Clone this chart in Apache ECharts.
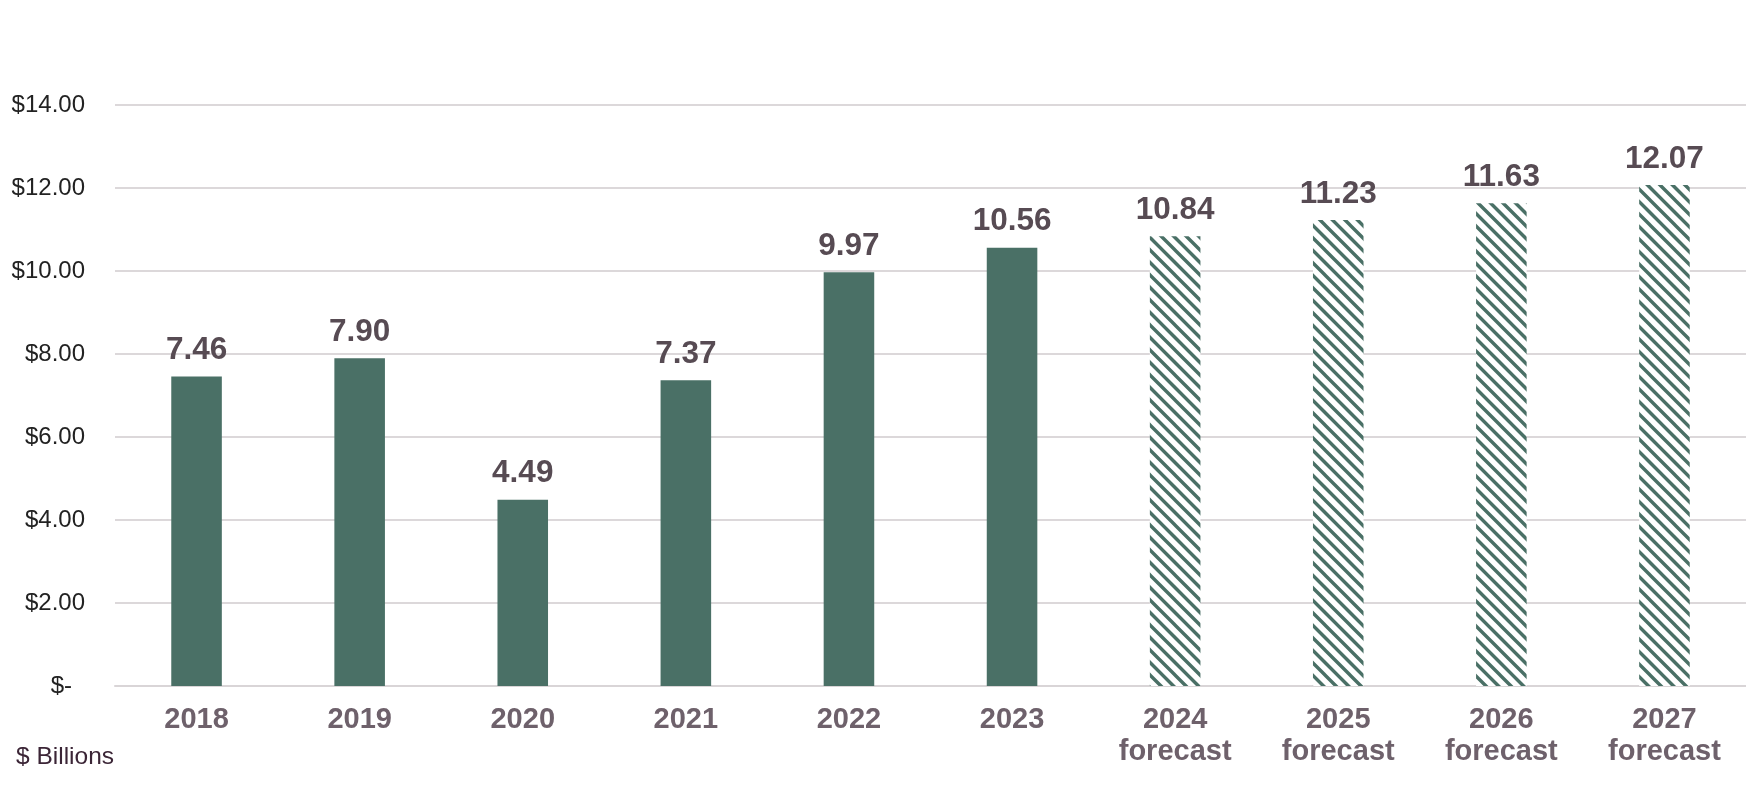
<!DOCTYPE html>
<html>
<head>
<meta charset="utf-8">
<script src="https://cdn.jsdelivr.net/npm/echarts@6/dist/echarts.min.js"></script>
<style>
html,body{margin:0;padding:0;background:#fff;}
#chart{width:1746px;height:801px;}
</style>
</head>
<body>
<div id="chart"></div>
<script>
const categories = ['2018','2019','2020','2021','2022','2023','2024\nforecast','2025\nforecast','2026\nforecast','2027\nforecast'];
const values = [7.46, 7.90, 4.49, 7.37, 9.97, 10.56, 10.84, 11.23, 11.63, 12.07];
const isForecast = [false,false,false,false,false,false,true,true,true,true];
const yTicks = { min: 0, max: 14, interval: 2 };
const unitLabel = '$ Billions';

const GREEN = '#4A7066';
const FONT = '"Liberation Sans", Arial, sans-serif';

function makeHatch() {
  const s = 25; // two stripes per tile -> period 12.5px
  const c = document.createElement('canvas');
  c.width = s; c.height = s;
  const g = c.getContext('2d');
  g.fillStyle = '#ffffff';
  g.fillRect(0, 0, s, s);
  g.strokeStyle = GREEN;
  g.lineWidth = 3.4;
  g.beginPath();
  for (let k = -2; k <= 2; k++) {
    const off = k * s / 2;
    g.moveTo(off - s, -s); g.lineTo(off + 2 * s, 2 * s);
  }
  g.stroke();
  return c;
}
const hatch = { image: makeHatch(), repeat: 'repeat' };

const chart = echarts.init(document.getElementById('chart'), null, { renderer: 'canvas' });
chart.setOption({
  animation: false,
  backgroundColor: '#ffffff',
  grid: { left: 115, right: 0, top: 105, bottom: 115, containLabel: false },
  graphic: [{
    type: 'text', left: 16, top: 745,
    style: { text: unitLabel, font: '24.5px ' + FONT, fill: '#3B2536' }
  }],
  xAxis: {
    type: 'category',
    data: categories,
    axisLine: { show: true, lineStyle: { color: '#D9D5D7', width: 2 } },
    axisTick: { show: false },
    axisLabel: {
      margin: 18,
      color: '#6E616B',
      fontFamily: FONT,
      fontWeight: 'bold',
      fontSize: 29,
      lineHeight: 32,
      interval: 0
    }
  },
  yAxis: {
    type: 'value',
    min: yTicks.min, max: yTicks.max, interval: yTicks.interval,
    axisLine: { show: false },
    axisTick: { show: false },
    splitLine: { lineStyle: { color: '#DCD8DA', width: 2 } },
    axisLabel: {
      margin: 30,
      color: '#222222',
      fontFamily: FONT,
      fontSize: 24,
      formatter: v => v === 0 ? '{z|$-}' : '$' + v.toFixed(2),
      rich: { z: { fontSize: 24, color: '#222222', fontFamily: FONT, padding: [0, 13, 0, 0] } }
    }
  },
  series: [{
    type: 'bar',
    barWidth: '31%',
    data: values.map((v, i) => ({
      value: v,
      itemStyle: { color: isForecast[i] ? hatch : GREEN }
    })),
    label: {
      show: true,
      position: 'top',
      distance: 10,
      formatter: p => p.value.toFixed(2),
      color: '#574B53',
      fontFamily: FONT,
      fontWeight: 'bold',
      fontSize: 31.5
    }
  }]
});
</script>
</body>
</html>
